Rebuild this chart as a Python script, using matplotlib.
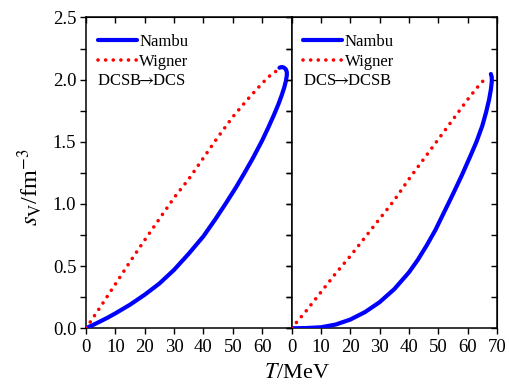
import matplotlib
matplotlib.use("Agg")
import matplotlib.pyplot as plt
from matplotlib.ticker import MultipleLocator

plt.rcParams['font.family'] = ['Liberation Serif', 'DejaVu Serif']
plt.rcParams['mathtext.fontset'] = 'stix'

# DCSB -> DCS (left panel)
T_nambu_1 = [0, 2.5, 5, 7.5, 10, 15, 20, 25, 30, 35, 40, 44, 47.5, 51, 54, 57, 60, 62, 64,
             65.5, 66.6, 67.5, 68.1, 68.4, 68.4, 68.1, 67.6, 67.0, 66.4, 65.9]
s_nambu_1 = [0, 0.028, 0.057, 0.087, 0.12, 0.19, 0.27, 0.36, 0.47, 0.6, 0.74, 0.875, 1.0, 1.13,
             1.25, 1.375, 1.51, 1.61, 1.715, 1.80, 1.87, 1.935, 1.99, 2.035, 2.06, 2.082,
             2.094, 2.1, 2.1, 2.095]
T_wigner_1 = [0, 5, 10, 15, 20, 25, 30, 35, 40, 45, 50, 55, 60, 62.6, 64.6]
s_wigner_1 = [0, 0.175, 0.355, 0.535, 0.71, 0.88, 1.05, 1.2, 1.37, 1.54, 1.70, 1.84, 1.97, 2.03, 2.065]

# DCS -> DCSB (right panel)
T_nambu_2 = [0, 5, 10, 15, 20, 25, 30, 35, 40, 43, 46, 49, 52, 55, 58, 61, 63, 65,
             66.3, 67.3, 67.9, 68.2, 68.2, 67.9]
s_nambu_2 = [0, 0.002, 0.008, 0.03, 0.07, 0.13, 0.21, 0.315, 0.45, 0.55, 0.665, 0.79, 0.935,
             1.08, 1.23, 1.39, 1.5, 1.63, 1.74, 1.84, 1.92, 1.98, 2.02, 2.045]
T_wigner_2 = [0, 5, 10, 15, 20, 25, 30, 35, 40, 45, 50, 55, 60, 63, 66.8]
s_wigner_2 = [0, 0.14, 0.29, 0.44, 0.58, 0.73, 0.88, 1.03, 1.2, 1.36, 1.52, 1.68, 1.84, 1.93, 2.03]

labels = ['Nambu', 'Wigner']
panel_notes = [r'DCSB$\!\!\rightarrow\!\!$DCS', r'DCS$\!\!\rightarrow\!\!$DCSB']
xticks_1 = [0, 10, 20, 30, 40, 50, 60]
xticks_2 = [0, 10, 20, 30, 40, 50, 60, 70]
yticks = [0.0, 0.5, 1.0, 1.5, 2.0, 2.5]

fig = plt.figure(figsize=(5.1, 3.87), dpi=100)
ax1 = fig.add_axes([0.1686, 0.1517, 0.4030, 0.8033])
ax2 = fig.add_axes([0.5716, 0.1517, 0.4030, 0.8033])

panels = [
    (ax1, T_nambu_1, s_nambu_1, T_wigner_1, s_wigner_1, xticks_1, panel_notes[0]),
    (ax2, T_nambu_2, s_nambu_2, T_wigner_2, s_wigner_2, xticks_2, panel_notes[1]),
]

for ax, tn, sn, tw, sw, xt, note in panels:
    ax.plot(tn, sn, color='#0000ff', lw=3.0, solid_capstyle='round',
            solid_joinstyle='round', label=labels[0], zorder=3)
    ax.plot(tw, sw, color='#ff0000', lw=2.6, linestyle=(0, (0.01, 2.1)),
            dash_capstyle='round', label=labels[1], zorder=4)
    ax.set_xlim(0, 70)
    ax.set_ylim(0, 2.5)
    ax.set_xticks(xt)
    ax.set_yticks(yticks)
    ax.yaxis.set_minor_locator(MultipleLocator(0.25))
    ax.tick_params(axis='both', which='both', direction='out', length=4, width=1,
                   labelsize=13.5, pad=3)
    ax.tick_params(axis='x', which='major', pad=4)
    for sp in ax.spines.values():
        sp.set_linewidth(1.1)

    # inward ticks on top and right
    top = ax.secondary_xaxis('top')
    top.set_xticks(xt)
    top.tick_params(direction='in', length=4, width=1, labeltop=False)
    right = ax.secondary_yaxis('right')
    right.set_yticks([0.25 * i for i in range(11)])
    right.tick_params(direction='in', length=4, width=1, labelright=False)

    ax.legend(loc='upper left', bbox_to_anchor=(0.0, 0.985), frameon=False,
              fontsize=12, handlelength=2.35, handletextpad=0.15,
              labelspacing=0.25, borderaxespad=0.3)
    ax.text(0.054, 0.794, note, transform=ax.transAxes, fontsize=12,
            va='center', ha='left')

ax1.set_yticklabels(['0.0', '0.5', '1.0', '1.5', '2.0', '2.5'])
ax2.tick_params(axis='y', which='both', labelleft=False)

fig.text(297 / 510, 1 - 374 / 387, r'$T$/MeV', fontsize=16, ha='center', va='center')
fig.text(30 / 510, 1 - 187 / 387, r'$s_{\rm V}$/fm$^{-3}$', fontsize=17.5,
         ha='center', va='center', rotation=90)

fig.savefig('out.png', dpi=100)
